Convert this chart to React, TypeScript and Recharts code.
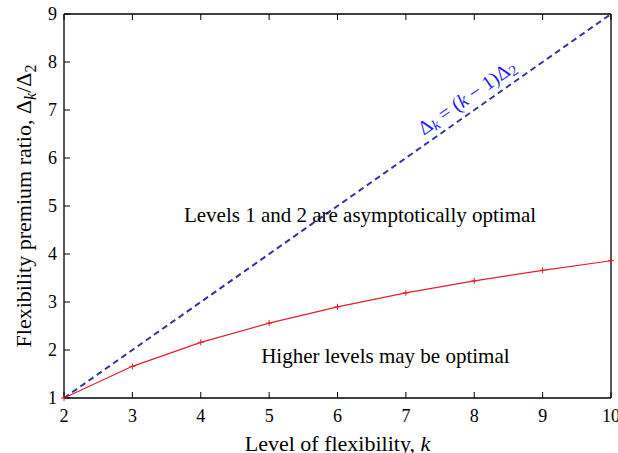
import React from 'react';
import { LineChart, Line, XAxis, YAxis, ReferenceDot } from 'recharts';

const levels = [2, 3, 4, 5, 6, 7, 8, 9, 10];
const premiumRatio = [1, 1.66, 2.16, 2.56, 2.9, 3.19, 3.44, 3.66, 3.86];
const linearBound = [1, 2, 3, 4, 5, 6, 7, 8, 9];
const xTicks = [2, 3, 4, 5, 6, 7, 8, 9, 10];
const yTicks = [1, 2, 3, 4, 5, 6, 7, 8, 9];

const upperNote = { k: 6.33, y: 4.67, text: 'Levels 1 and 2 are asymptotically optimal' };
const lowerNote = { k: 6.7, y: 1.73, text: 'Higher levels may be optimal' };
const lineNote = { k: 7.89, y: 7.27 };

const data = levels.map((k, i) => ({ k, ratio: premiumRatio[i], bound: linearBound[i] }));

const FONT = '"Liberation Serif", "Times New Roman", serif';
const RED = '#e3202b';
const NAVY = '#36349a';

const PlusDot = (props: any) => {
  const { cx, cy } = props;
  if (cx == null || cy == null) return <g />;
  return (
    <path
      d={`M${cx - 3},${cy}H${cx + 3}M${cx},${cy - 3}V${cy + 3}`}
      stroke={RED}
      strokeWidth={1}
      fill="none"
    />
  );
};

const Nothing = () => <g />;

const NoteText = (text: string) => (p: any) => (
  <text x={p.cx} y={p.cy} textAnchor="middle" fontFamily={FONT} fontSize={21} fill="#000">
    {text}
  </text>
);

const LineLabel = (p: any) => (
  <text
    x={p.cx}
    y={p.cy}
    textAnchor="middle"
    dominantBaseline="central"
    fontFamily={FONT}
    fontSize={20}
    fill="#1a1aff"
    transform={`rotate(-35 ${p.cx} ${p.cy})`}
  >
    Δ<tspan dy={5} fontSize={15} fontStyle="italic">k</tspan>
    <tspan dy={-5}> = (</tspan>
    <tspan fontStyle="italic">k</tspan>
    <tspan> − 1)Δ</tspan>
    <tspan dy={5} fontSize={15}>2</tspan>
  </text>
);

const XLabel = (props: any) => {
  const vb = props.viewBox || {};
  const cx = vb.x + vb.width / 2;
  return (
    <text x={cx} y={vb.y + 53} textAnchor="middle" fontFamily={FONT} fontSize={22} fill="#000">
      Level of flexibility, <tspan fontStyle="italic">k</tspan>
    </text>
  );
};

const YLabel = (props: any) => {
  const vb = props.viewBox || {};
  const x = 31;
  const y = vb.y + vb.height / 2;
  return (
    <text
      x={x}
      y={y}
      textAnchor="middle"
      fontFamily={FONT}
      fontSize={22}
      fill="#000"
      transform={`rotate(-90 ${x} ${y})`}
    >
      Flexibility premium ratio, Δ<tspan dy={5} fontSize={16} fontStyle="italic">k</tspan>
      <tspan dy={-5}>/Δ</tspan>
      <tspan dy={5} fontSize={16}>2</tspan>
    </text>
  );
};

const tickStyle = { fontSize: 18, fill: '#000', fontFamily: FONT };
const axisLineStyle = { stroke: '#000', strokeWidth: 1.3 };

export default function App() {
  return (
    <div style={{ position: 'absolute', left: 0, top: 0, width: 618, height: 453, background: '#fff' }}>
      <LineChart
        width={618}
        height={453}
        data={data}
        margin={{ top: 13, right: 6, bottom: 54, left: 0 }}
      >
        <XAxis
          dataKey="k"
          type="number"
          domain={[2, 10]}
          ticks={xTicks}
          height={1}
          tickSize={-6}
          tickMargin={17}
          tick={tickStyle}
          stroke="#000"
          axisLine={axisLineStyle}
          tickLine={{ stroke: '#000' }}
          label={<XLabel />}
          interval={0}
        />
        <XAxis
          xAxisId="top"
          orientation="top"
          dataKey="k"
          type="number"
          domain={[2, 10]}
          ticks={xTicks}
          height={1}
          tickSize={-6}
          tick={Nothing}
          stroke="#000"
          axisLine={axisLineStyle}
          tickLine={{ stroke: '#000' }}
          interval={0}
        />
        <YAxis
          type="number"
          domain={[1, 9]}
          ticks={yTicks}
          width={64}
          tickSize={-6}
          tickMargin={13}
          tick={tickStyle}
          stroke="#000"
          axisLine={axisLineStyle}
          tickLine={{ stroke: '#000' }}
          label={<YLabel />}
          interval={0}
        />
        <YAxis
          yAxisId="right"
          orientation="right"
          type="number"
          domain={[1, 9]}
          ticks={yTicks}
          width={1}
          tickSize={-6}
          tick={Nothing}
          stroke="#000"
          axisLine={axisLineStyle}
          tickLine={{ stroke: '#000' }}
          interval={0}
        />
        <Line
          dataKey="bound"
          stroke={NAVY}
          strokeWidth={2}
          strokeDasharray="6 4"
          dot={false}
          activeDot={false}
          isAnimationActive={false}
        />
        <Line
          dataKey="ratio"
          stroke={RED}
          strokeWidth={1.2}
          dot={<PlusDot />}
          activeDot={false}
          isAnimationActive={false}
        />
        <ReferenceDot x={upperNote.k} y={upperNote.y} r={0} shape={NoteText(upperNote.text)} />
        <ReferenceDot x={lowerNote.k} y={lowerNote.y} r={0} shape={NoteText(lowerNote.text)} />
        <ReferenceDot x={lineNote.k} y={lineNote.y} r={0} shape={LineLabel} />
      </LineChart>
    </div>
  );
}
